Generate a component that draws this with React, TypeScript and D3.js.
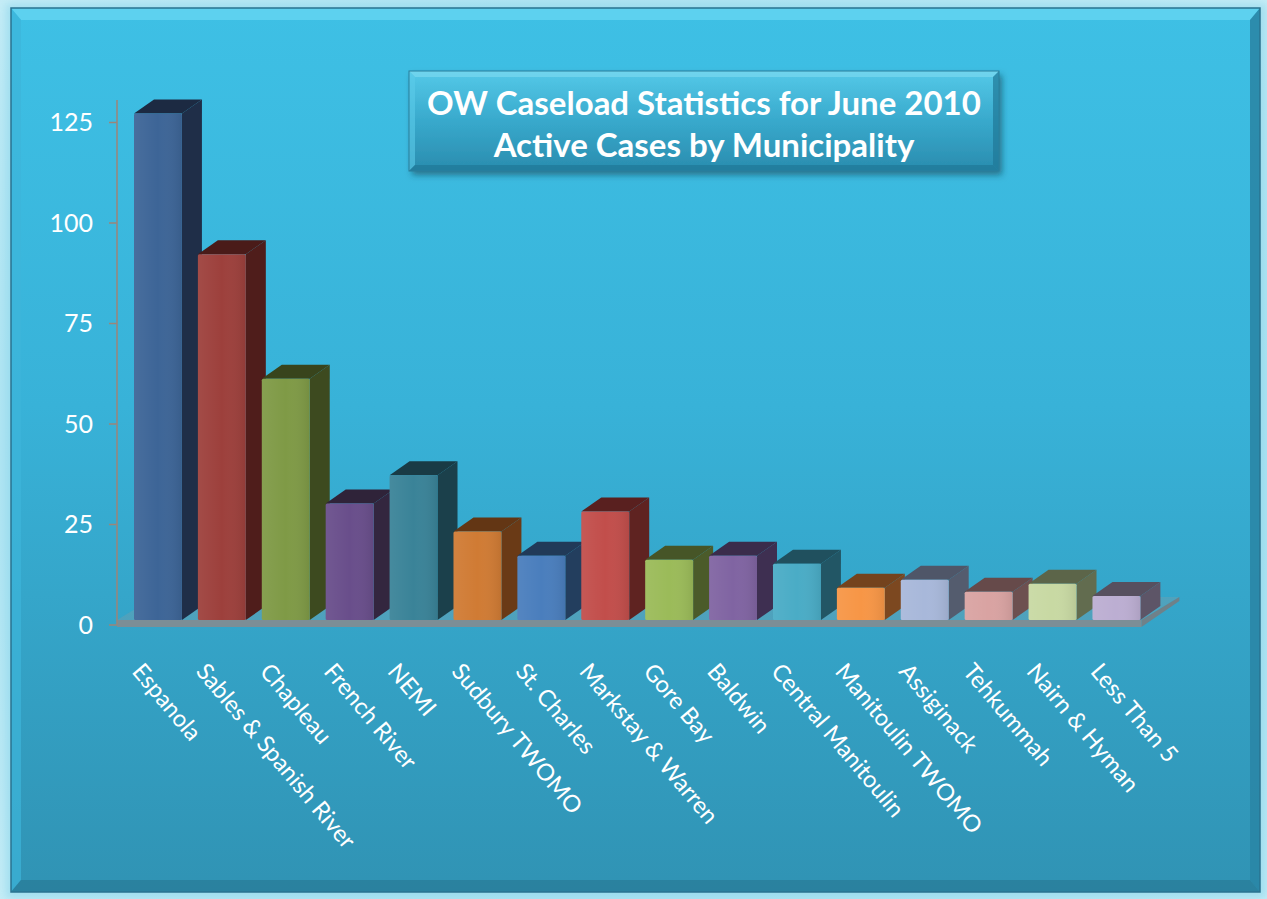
import React from "react";
import * as d3 from "d3";

const categories = [
  "Espanola",
  "Sables & Spanish River",
  "Chapleau",
  "French River",
  "NEMI",
  "Sudbury TWOMO",
  "St. Charles",
  "Markstay & Warren",
  "Gore Bay",
  "Baldwin",
  "Central Manitoulin",
  "Manitoulin TWOMO",
  "Assiginack",
  "Tehkummah",
  "Nairn & Hyman",
  "Less Than 5",
];
const values = [126, 91, 60, 29, 36, 22, 16, 27, 15, 16, 14, 8, 10, 7, 9, 6];
const yTicks = [0, 25, 50, 75, 100, 125];
const titleLines = ["OW Caseload Statistics for June 2010", "Active Cases by Municipality"];

const frontColors = [
  "#3d6597", "#9d403c", "#7f9a46", "#694e8b", "#3a8398", "#d07b34",
  "#4a7ebd", "#c24e4b", "#9bbb59", "#8064a2", "#4aacc6", "#f79646",
  "#a8b8da", "#d9a3a2", "#c8d9a3", "#bcaed2",
];
const sideColors = [
  "#1f2e48", "#4f1d1b", "#3d4a1f", "#33263f", "#1b404b", "#6a3a16",
  "#233e5e", "#5f2321", "#4b5b2a", "#3e2f51", "#225665", "#7c4820",
  "#545c6e", "#6d5050", "#626c4f", "#5d5567",
];
const topColors = [
  "#1c2a42", "#4a1b19", "#38441c", "#2f2339", "#193b45", "#633614",
  "#213a58", "#59201f", "#465527", "#3a2c4b", "#20505e", "#74431d",
  "#4f5668", "#664a4a", "#5c6549", "#57505f",
];

const W = 1267;
const H = 899;
const DX = 20;
const DY = -14;
const FONT = "Lato, 'Open Sans', sans-serif";

export default function App() {
  const x = d3
    .scaleBand<string>()
    .domain(categories)
    .range([134, 1140.4])
    .paddingInner(0.25)
    .paddingOuter(0);
  const y = d3.scaleLinear().domain([0, 125]).range([625, 122.5]);
  const baseY = y(0) - 5;
  const bw = x.bandwidth();
  const floorLeft = 117;
  const floorRight = (x(categories[categories.length - 1]) as number) + bw + 1;

  return (
    <svg
      width={W}
      height={H}
      style={{ position: "absolute", left: 0, top: 0 }}
      fontFamily={FONT}
    >
      <defs>
        <radialGradient id="outer" cx="50%" cy="50%" r="75%">
          <stop offset="0%" stopColor="#7fd3ea" />
          <stop offset="100%" stopColor="#c9eef7" />
        </radialGradient>
        <linearGradient id="panel" x1="0" y1="0" x2="0" y2="1">
          <stop offset="0%" stopColor="#3ec0e5" />
          <stop offset="45%" stopColor="#38b2d8" />
          <stop offset="100%" stopColor="#3093b4" />
        </linearGradient>
        <linearGradient id="titleBox" x1="0" y1="0" x2="0" y2="1">
          <stop offset="0%" stopColor="#55c9e8" />
          <stop offset="50%" stopColor="#38a9cc" />
          <stop offset="100%" stopColor="#2a8cae" />
        </linearGradient>
        <linearGradient id="frontShade" x1="0" y1="0" x2="1" y2="0">
          <stop offset="0%" stopColor="#ffffff" stopOpacity="0.06" />
          <stop offset="50%" stopColor="#ffffff" stopOpacity="0" />
          <stop offset="100%" stopColor="#000000" stopOpacity="0.08" />
        </linearGradient>
        <filter id="shadow" x="-10%" y="-10%" width="130%" height="140%">
          <feDropShadow dx="3" dy="4" stdDeviation="3" floodColor="#0b3a4a" floodOpacity="0.55" />
        </filter>
        <filter id="outerGlow" x="-5%" y="-5%" width="110%" height="110%">
          <feGaussianBlur stdDeviation="4" />
        </filter>
      </defs>

      {/* outer background */}
      <rect x={0} y={0} width={W} height={H} fill="url(#outer)" />
      <rect x={6} y={4} width={1260} height={894} fill="#8ad5ea" opacity={0.6} filter="url(#outerGlow)" />

      {/* panel */}
      <rect x={11} y={8} width={1249} height={884} fill="url(#panel)" />
      <polygon points="11,8 1260,8 1250,20 21,20" fill="#63d3f1" opacity={0.85} />
      <polygon points="11,8 21,20 21,880 11,892" fill="#3db5da" opacity={0.7} />
      <polygon points="1260,8 1260,892 1250,880 1250,20" fill="#2a86a6" opacity={0.9} />
      <polygon points="11,892 21,880 1250,880 1260,892" fill="#2a7f9c" opacity={0.9} />
      <rect x={11} y={8} width={1249} height={884} fill="none" stroke="#2a7390" strokeWidth={1.5} />

      {/* title box */}
      <g filter="url(#shadow)">
        <rect x={409} y={71} width={590} height={100} fill="url(#titleBox)" />
      </g>
      <polygon points="409,71 999,71 993,77 415,77" fill="#7ad8f0" opacity={0.7} />
      <polygon points="409,71 415,77 415,165 409,171" fill="#5ccbea" opacity={0.6} />
      <polygon points="999,71 999,171 993,165 993,77" fill="#1f7897" opacity={0.7} />
      <polygon points="409,171 415,165 993,165 999,171" fill="#1f7897" opacity={0.7} />
      <rect x={409} y={71} width={590} height={100} fill="none" stroke="#2a7f9c" strokeWidth={1} />
      {titleLines.map((t, i) => (
        <text
          key={t}
          x={704}
          y={115 + i * 42}
          textAnchor="middle"
          fill="#ffffff"
          fontWeight="bold"
          fontSize={33}
        >
          {t}
        </text>
      ))}

      {/* floor */}
      <polygon
        points={`${floorLeft},${baseY} ${floorRight},${baseY} ${floorRight + 38},${baseY - 23} ${floorLeft + 38},${baseY - 23}`}
        fill="#8a9ba3"
        opacity={0.3}
      />
      <polygon
        points={`${floorRight},${baseY} ${floorRight + 38},${baseY - 23} ${floorRight + 38},${baseY - 19} ${floorRight},${baseY + 7}`}
        fill="#6f8189"
      />
      <rect x={floorLeft} y={baseY} width={floorRight - floorLeft} height={7} fill="#7b8e96" />

      {/* y axis */}
      <line x1={117} x2={117} y1={100} y2={y(0)} stroke="#9c8579" strokeWidth={1.5} />
      {yTicks.map((t) => (
        <g key={t}>
          <line x1={109} x2={117} y1={y(t)} y2={y(t)} stroke="#9c8579" strokeWidth={1.5} />
          <text
            x={93}
            y={y(t)}
            dy="0.35em"
            textAnchor="end"
            fill="#ffffff"
            fontSize={25}
          >
            {t}
          </text>
        </g>
      ))}

      {/* bars */}
      {categories.map((c, i) => {
        const x0 = x(c) as number;
        const x1 = x0 + bw;
        const top = y(values[i]) - 5;
        return (
          <g key={c}>
            <polygon
              points={`${x1},${baseY} ${x1},${top} ${x1 + DX},${top + DY} ${x1 + DX},${baseY + DY}`}
              fill={sideColors[i]}
            />
            <polygon
              points={`${x0},${top} ${x1},${top} ${x1 + DX},${top + DY} ${x0 + DX},${top + DY}`}
              fill={topColors[i]}
            />
            <rect x={x0} y={top} width={bw} height={baseY - top} fill={frontColors[i]} rx={1.5} />
            <rect x={x0} y={top} width={bw} height={baseY - top} fill="url(#frontShade)" rx={1.5} />
          </g>
        );
      })}

      {/* category labels */}
      {categories.map((c) => {
        const x0 = (x(c) as number) - 3;
        return (
          <text
            key={c}
            transform={`translate(${x0},672) rotate(50)`}
            fill="#ffffff"
            fontSize={23.5}
          >
            {c}
          </text>
        );
      })}
    </svg>
  );
}
